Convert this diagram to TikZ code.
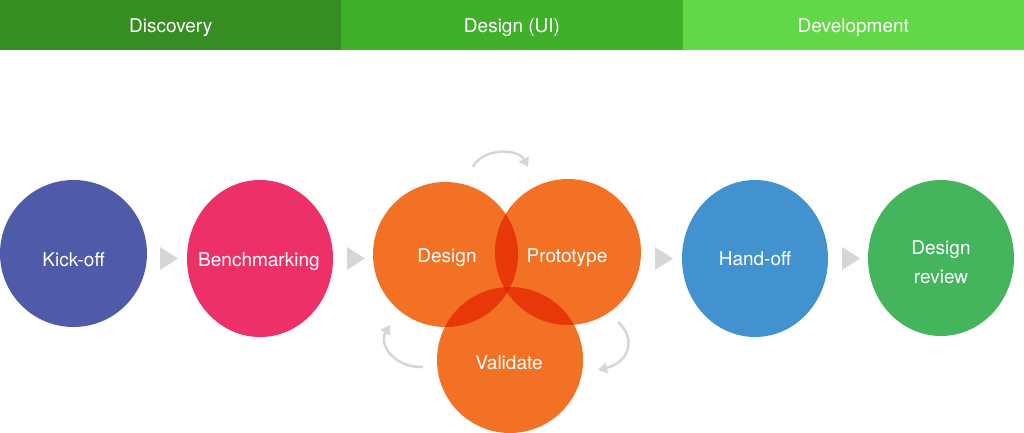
\documentclass[tikz,border=0pt]{standalone}
\usepackage{fontspec}
\setmainfont{TeX Gyre Heros}
\usetikzlibrary{shapes.geometric, arrows.meta}

\definecolor{discoverycol}{HTML}{368E23}
\definecolor{designuicol}{HTML}{40B02A}
\definecolor{developcol}{HTML}{62D848}
\definecolor{kickcol}{HTML}{4F5BA8}
\definecolor{benchcol}{HTML}{EE3068}
\definecolor{venncol}{HTML}{F37124}
\definecolor{overlapcol}{HTML}{E8380A}
\definecolor{triplecol}{HTML}{DE2A04}
\definecolor{handcol}{HTML}{4392D0}
\definecolor{reviewcol}{HTML}{45B55D}
\definecolor{greycol}{HTML}{D6D6D6}

\tikzset{
  phase band/.style={
    rectangle,
    fill=#1,
    text=white,
    inner sep=0pt,
    outer sep=0pt,
    text depth=0pt,
    minimum width=341.4pt,
    minimum height=50pt,
    font=\fontsize{19}{23}\selectfont,
  },
  stage node/.style={
    ellipse,
    fill=#1,
    inner sep=0pt,
  },
  stage text/.style={
    text=white,
    inner sep=0pt,
    text depth=0pt,
    align=center,
    font=\fontsize{19}{29}\selectfont,
  },
  flow arrow/.style={fill=greycol},
  loop arrow/.style={
    draw=greycol,
    line width=2.5pt,
    -{Triangle[length=9pt, width=11pt]},
  },
}

\begin{document}
\begin{tikzpicture}[x=1pt, y=-1pt]
      \useasboundingbox (0,0) rectangle (1024,433);

      % phases
      \node[phase band=discoverycol] (discovery) at (170.7,25.5) {Discovery};
      \node[phase band=designuicol]  (designui)  at (512,25.5)   {Design (UI)};
      \node[phase band=developcol]   (develop)   at (853.3,25.5) {Development};

      % stages
      \node[stage node=kickcol,   minimum width=147pt, minimum height=147pt] (kickoff)  at (73.5,253.5)  {};
      \node[stage node=benchcol,  minimum width=146pt, minimum height=157pt] (bench)    at (260,258.5)   {};
      \node[stage node=venncol,   minimum width=145pt, minimum height=145pt] (design)   at (445.5,254.5) {};
      \node[stage node=venncol,   minimum width=146pt, minimum height=146pt] (proto)    at (568,252)     {};
      \node[stage node=venncol,   minimum width=146pt, minimum height=146pt] (validate) at (510,360)     {};
      \node[stage node=handcol,   minimum width=146pt, minimum height=157pt] (handoff)  at (755,258.5)   {};
      \node[stage node=reviewcol, minimum width=146pt, minimum height=156pt] (review)   at (941,258)     {};

      % overlaps
      \begin{scope}
        \clip (design.center) circle (72.5pt);
        \fill[overlapcol] (proto.center) circle (73pt);
        \fill[overlapcol] (validate.center) circle (73pt);
      \end{scope}
      \begin{scope}
        \clip (proto.center) circle (73pt);
        \fill[overlapcol] (validate.center) circle (73pt);
      \end{scope}
      \begin{scope}
        \clip (design.center) circle (72.5pt);
        \clip (proto.center) circle (73pt);
        \fill[triplecol] (validate.center) circle (73pt);
      \end{scope}

      % labels
      \node[stage text] (kickoff text)  at (73.5,260)  {Kick-off};
      \node[stage text] (bench text)    at (259,260)   {Benchmarking};
      \node[stage text] (design text)   at (447,256)   {Design};
      \node[stage text] (proto text)    at (567,256)   {Prototype};
      \node[stage text] (validate text) at (509,363)   {Validate};
      \node[stage text] (handoff text)  at (755,259)   {Hand-off};
      \node[stage text] (review text)   at (941,262)   {Design\\review};

      % flow
      \foreach \x in {160,347,655,842}
        \fill[flow arrow] (\x,247) -- (\x+18,258.5) -- (\x,270) -- cycle;

      % loop
      \coordinate (top start)   at (473,167);
      \coordinate (top end)     at (528,167);
      \coordinate (right start) at (618,322);
      \coordinate (right end)   at (598,370);
      \coordinate (left start)  at (423,367);
      \coordinate (left end)    at (390,325);

      \draw[loop arrow] (top start)   .. controls (482,148) and (518,148) .. (top end);
      \draw[loop arrow] (right start) .. controls (636,338) and (630,362) .. (right end);
      \draw[loop arrow] (left start)  .. controls (395,368) and (378,345) .. (left end);
    \end{tikzpicture}
\end{document}
